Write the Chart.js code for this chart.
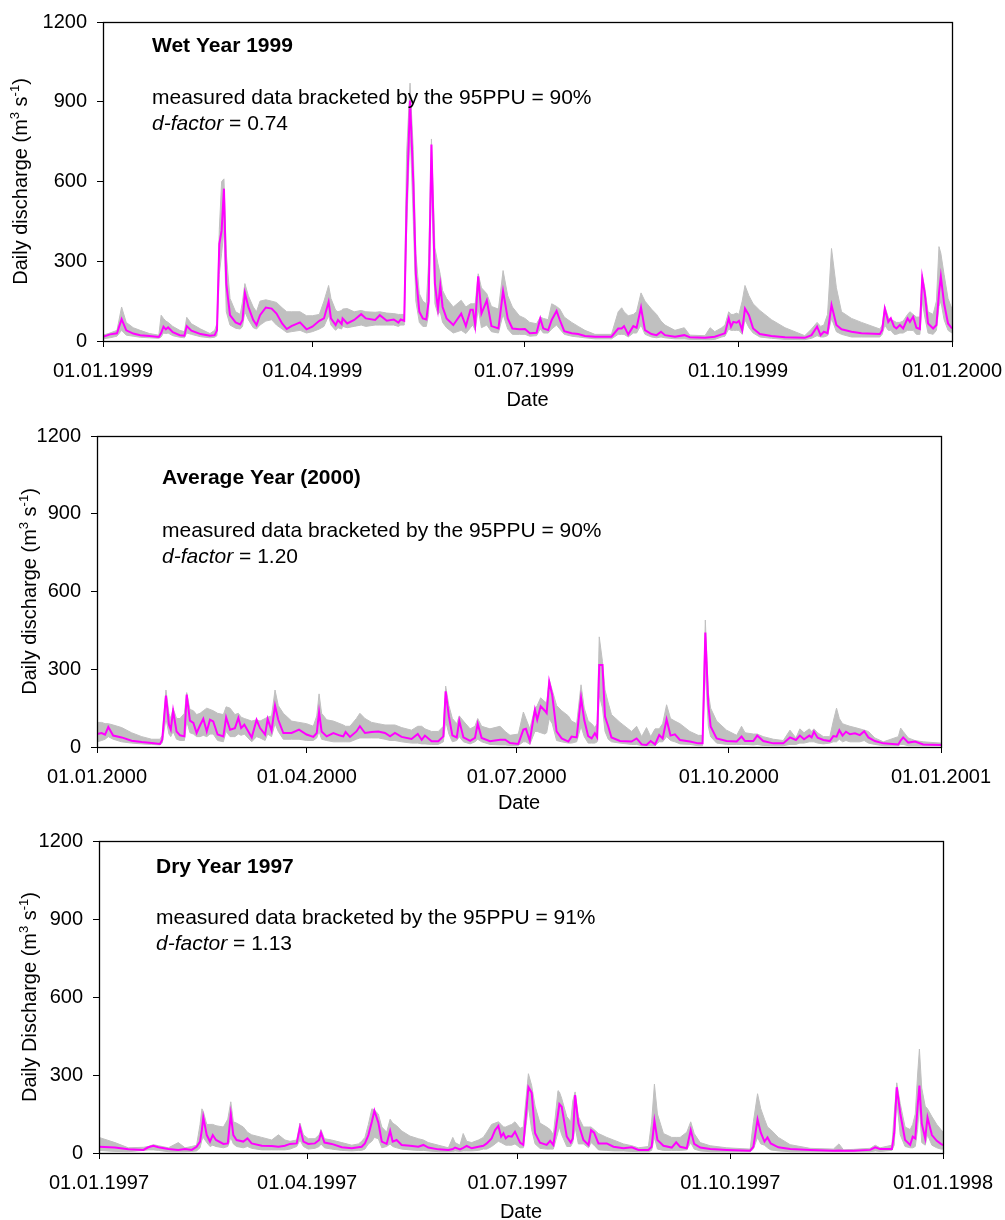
<!DOCTYPE html>
<html>
<head>
<meta charset="utf-8">
<script src="https://cdn.jsdelivr.net/npm/chart.js@4.4.0/dist/chart.umd.min.js"></script>
<style>
  body { margin: 0; background: #fff; }
  .panel { position: absolute; left: 0; width: 1005px; }
</style>
</head>
<body>
<div class="panel" style="top:0;height:412px"><canvas id="wet"></canvas></div>
<div class="panel" style="top:412px;height:406px"><canvas id="avg"></canvas></div>
<div class="panel" style="top:818px;height:402px"><canvas id="dry"></canvas></div>
<script>
// day of year (0 = 1 January), measured discharge and 95PPU band, m3/s
var days1999 = [
  0, 3, 6, 8, 10, 13, 16, 20, 24, 25,
  26, 27, 28, 30, 33, 35, 36, 38, 42, 46,
  48, 49, 50, 51, 52, 53, 54.6, 57, 59, 60,
  61, 62.5, 64.6, 66, 67.5, 70, 72.5, 74.6, 77, 79,
  81, 84.7, 87.5, 90, 93, 95, 97, 98, 100, 101,
  102.6, 103, 105, 108, 111, 113, 117, 119, 122, 125,
  127, 128, 129.5, 130.5, 132, 133.4, 134.5, 136, 137.5, 139,
  140, 141.2, 142.7, 144, 145, 146, 147.7, 150.6, 154, 156,
  158, 159, 160, 161.3, 162.7, 165, 167, 170, 172, 174,
  176, 179, 181.4, 183.5, 186.4, 188, 189.3, 191.4, 192.9, 195,
  196.4, 198.3, 201.5, 204.3, 207.2, 211.5, 218.6, 221.5, 223, 224,
  225.8, 228, 229.4, 231.3, 233, 235.8, 238, 239.9, 241.6, 245.9,
  249.9, 252.3, 258.8, 261, 263, 266, 267.4, 269, 270, 271,
  272.4, 273.4, 274.8, 276, 277.7, 279.5, 282.4, 287.4, 293.2, 301.7,
  304.6, 307, 308.5, 309.9, 311.5, 313.2, 315.3, 317.5, 321.8, 326.1,
  334, 335, 336.1, 337.6, 338.7, 340.1, 341.1, 342.6, 344, 345.9,
  346.9, 348.3, 349.7, 351.2, 352.2, 353.3, 354.7, 356.9, 358.3, 359.4,
  360.2, 361.6, 363.3, 365
];
var flow1999 = [
  16, 25, 29, 82, 40, 28, 22, 19, 15, 30,
  54, 44, 51, 33, 22, 20, 56, 39, 26, 20,
  22, 40, 365, 415, 573, 216, 97, 70, 62, 79,
  181, 128, 79, 60, 97, 126, 122, 103, 66, 45,
  56, 70, 44, 54, 76, 85, 147, 85, 60, 79,
  64, 85, 66, 79, 101, 85, 79, 97, 76, 81,
  69, 81, 76, 500, 905, 600, 250, 110, 85, 81,
  150, 739, 216, 122, 209, 128, 85, 60, 103, 56,
  118, 118, 60, 243, 103, 153, 56, 47, 188, 85,
  47, 44, 45, 29, 31, 85, 47, 41, 79, 113,
  79, 37, 29, 26, 19, 16, 16, 47, 47, 56,
  25, 56, 50, 126, 41, 26, 22, 35, 22, 16,
  22, 14, 12, 14, 16, 25, 29, 85, 54, 72,
  69, 76, 41, 122, 97, 47, 26, 19, 14, 12,
  22, 54, 22, 35, 29, 135, 60, 44, 35, 29,
  26, 41, 122, 72, 85, 54, 47, 60, 47, 85,
  72, 91, 50, 45, 238, 178, 66, 47, 60, 180,
  243, 141, 66, 47
];
var lower1999 = [
  8, 12, 18, 40, 22, 18, 14, 12, 10, 15,
  30, 28, 30, 20, 14, 12, 30, 25, 16, 12,
  14, 20, 250, 330, 420, 110, 60, 48, 45, 55,
  110, 80, 50, 45, 60, 75, 80, 60, 45, 32,
  35, 40, 30, 35, 45, 55, 95, 60, 40, 50,
  45, 55, 50, 55, 60, 55, 60, 60, 60, 60,
  55, 60, 60, 400, 800, 450, 150, 70, 55, 55,
  100, 600, 140, 100, 110, 70, 50, 30, 40, 28,
  50, 60, 40, 120, 50, 60, 35, 30, 100, 45,
  25, 25, 25, 18, 20, 45, 30, 30, 45, 60,
  45, 25, 18, 15, 12, 8, 8, 25, 25, 25,
  15, 30, 30, 60, 25, 15, 12, 15, 12, 8,
  8, 6, 5, 5, 6, 15, 18, 45, 40, 40,
  40, 40, 25, 80, 50, 30, 15, 10, 6, 5,
  10, 20, 15, 15, 20, 85, 35, 25, 15, 15,
  15, 25, 60, 40, 40, 25, 25, 30, 30, 40,
  40, 40, 25, 25, 150, 90, 30, 25, 40, 130,
  150, 80, 40, 30
];
var upper1999 = [
  22, 30, 40, 128, 70, 50, 40, 28, 22, 97,
  85, 75, 70, 55, 40, 35, 89, 65, 45, 28,
  40, 66, 420, 600, 610, 330, 160, 110, 100, 150,
  216, 170, 128, 110, 150, 155, 150, 145, 125, 110,
  110, 110, 95, 95, 100, 150, 209, 160, 116, 110,
  115, 120, 122, 110, 115, 110, 108, 110, 105, 103,
  100, 100, 100, 700, 970, 720, 330, 178, 150, 140,
  300, 760, 350, 290, 250, 190, 160, 128, 153, 128,
  140, 140, 140, 253, 200, 178, 130, 120, 265, 170,
  128, 95, 85, 70, 65, 90, 85, 80, 140, 130,
  120, 90, 70, 55, 40, 25, 25, 110, 125, 110,
  95, 100, 110, 181, 150, 120, 100, 75, 60, 40,
  50, 22, 20, 50, 35, 50, 60, 110, 100, 100,
  105, 100, 150, 209, 170, 140, 115, 80, 50, 20,
  45, 70, 55, 60, 100, 348, 200, 110, 85, 70,
  45, 60, 130, 90, 80, 75, 70, 70, 75, 100,
  110, 100, 90, 90, 250, 200, 110, 100, 150, 355,
  330, 250, 160, 120
];

var days2000 = [
  0, 2, 3.5, 4.9, 7, 10.7, 15, 19.4, 23.7, 27.3,
  28.3, 29.9, 31.2, 32, 33, 34.5, 36, 37.9, 38.9, 40.3,
  41.8, 43.2, 44.7, 46.1, 47.6, 49, 50.4, 52.3, 54.8, 56,
  57.7, 59.8, 61.3, 62.5, 63.9, 67.1, 69.2, 70.7, 72.9, 74,
  75.7, 77.2, 78.6, 80.8, 84.4, 87.6, 90.9, 93.8, 95.3, 96.3,
  97.4, 99.6, 102.5, 105.4, 106.8, 107.8, 109.7, 112.5, 114, 116.2,
  119.1, 122, 124.9, 127.1, 129.2, 132.1, 136.4, 139.1, 140.8, 142.2,
  145.1, 148, 150.2, 151.2, 152.6, 154.1, 156, 157.1, 158.9, 161.8,
  163.9, 165.1, 166.8, 170.4, 174.8, 177, 179.1, 182.7, 184.9, 186,
  187.7, 189.9, 190.9, 192.4, 194.2, 195, 196.1, 197.4, 199.3, 201.5,
  204.4, 205.8, 208, 209.9, 211.3, 213, 214.5, 215.9, 216.9, 217.8,
  219.2, 220.3, 221.7, 223.1, 226.8, 231.8, 234, 236.2, 238.3, 240.1,
  242, 243.8, 245.3, 247, 248.7, 250.6, 252.8, 257.1, 260.7, 262.6,
  263.8, 265.1, 266.1, 268.7, 273, 277.4, 279.5, 281, 284.6, 286.3,
  288.9, 293.3, 297.6, 300.5, 303.1, 304.8, 306.6, 308.9, 309.9, 310.9,
  312.5, 315, 317.8, 319.3, 320.7, 321.9, 323.3, 324.8, 326.5, 328.7,
  330.8, 332.7, 334.5, 337.3, 341, 347.5, 348.5, 349.6, 351.8, 354.7,
  358.3, 366
];
var flow2000 = [
  50, 54, 48, 77, 44, 37, 24, 19, 15, 12,
  28, 198, 86, 67, 140, 60, 45, 41, 202, 102,
  93, 54, 84, 109, 60, 105, 99, 48, 41, 114,
  67, 73, 112, 73, 86, 37, 105, 73, 48, 108,
  63, 160, 105, 54, 54, 67, 48, 39, 54, 135,
  60, 41, 54, 44, 41, 58, 39, 60, 80, 54,
  58, 60, 54, 41, 54, 39, 31, 50, 28, 44,
  22, 22, 41, 215, 118, 45, 37, 102, 37, 24,
  35, 90, 35, 22, 28, 28, 15, 12, 67, 70,
  24, 144, 105, 157, 140, 131, 252, 201, 60, 33,
  21, 40, 37, 190, 104, 42, 33, 53, 37, 316,
  316, 117, 79, 37, 23, 21, 33, 10, 8, 23,
  10, 46, 33, 107, 44, 49, 27, 21, 14, 14,
  442, 162, 79, 33, 23, 21, 40, 23, 23, 44,
  23, 14, 14, 37, 27, 44, 30, 44, 37, 59,
  36, 27, 23, 42, 40, 65, 44, 59, 49, 53,
  46, 61, 37, 23, 14, 10, 25, 37, 17, 21,
  10, 8
];
var lower2000 = [
  20, 25, 30, 40, 30, 20, 15, 12, 10, 8,
  15, 110, 50, 40, 60, 30, 25, 25, 100, 55,
  50, 40, 40, 45, 40, 50, 50, 25, 20, 60,
  40, 40, 50, 45, 50, 20, 40, 35, 25, 50,
  40, 90, 60, 30, 30, 30, 25, 25, 35, 60,
  30, 25, 20, 20, 20, 20, 20, 30, 35, 35,
  35, 35, 30, 25, 25, 20, 15, 15, 12, 12,
  10, 10, 20, 100, 50, 20, 25, 40, 20, 12,
  20, 30, 20, 10, 8, 8, 6, 6, 20, 20,
  10, 60, 60, 55, 50, 55, 110, 90, 25, 20,
  15, 15, 20, 80, 40, 15, 15, 15, 20, 200,
  150, 60, 30, 20, 15, 10, 10, 5, 5, 5,
  5, 20, 20, 40, 25, 20, 12, 10, 5, 5,
  300, 80, 40, 15, 10, 10, 10, 10, 8, 10,
  6, 5, 5, 10, 10, 15, 15, 20, 20, 20,
  15, 12, 15, 20, 20, 30, 20, 25, 20, 20,
  20, 25, 15, 10, 5, 5, 10, 10, 5, 5,
  5, 5
];
var upper2000 = [
  95, 95, 90, 90, 85, 75, 55, 40, 30, 30,
  45, 220, 130, 110, 150, 110, 110, 130, 210, 145,
  140, 125, 130, 140, 150, 145, 140, 130, 125, 155,
  150, 125, 130, 115, 110, 100, 105, 100, 110, 115,
  120, 220, 160, 130, 100, 95, 90, 80, 120, 205,
  130, 105, 100, 90, 85, 80, 80, 110, 130, 110,
  95, 90, 85, 85, 85, 75, 65, 80, 80, 70,
  60, 60, 80, 235, 160, 110, 90, 120, 100, 70,
  80, 110, 80, 70, 80, 60, 45, 50, 135, 110,
  70, 150, 160, 190, 175, 170, 260, 220, 160, 140,
  120, 100, 90, 240, 150, 100, 90, 75, 90, 425,
  330, 220, 170, 125, 95, 60, 80, 40, 75, 40,
  70, 70, 90, 163, 110, 100, 90, 60, 45, 45,
  490, 210, 150, 100, 65, 45, 80, 55, 50, 50,
  40, 30, 25, 65, 35, 70, 55, 70, 60, 70,
  55, 40, 40, 100, 150, 110, 90, 85, 80, 75,
  70, 65, 60, 35, 20, 40, 73, 60, 35, 25,
  20, 15
];

var days1997 = [
  0, 6.9, 12.7, 19.2, 21.3, 23.5, 25.7, 30, 34.3, 37.2,
  40.1, 42.2, 43.7, 44.5, 45.1, 46.6, 48, 49.2, 50.6, 53.8,
  55.7, 57, 58.1, 59.5, 62.4, 64.2, 66, 70.4, 74.7, 77.6,
  80.4, 82.6, 85.5, 86.9, 88.4, 90.5, 93.4, 95.2, 96, 97.5,
  100.6, 105, 109.3, 112.2, 113.6, 115, 116.5, 118, 119.1, 120.8,
  122.3, 124.4, 125.9, 127, 128.7, 130.9, 134.5, 138.1, 140.3, 142.4,
  146.8, 151.1, 153, 154, 156.1, 157.5, 159, 161.2, 164.1, 166.2,
  167.7, 169.8, 171.3, 172.7, 173.9, 174.9, 175.9, 177, 178.5, 179.9,
  182.1, 183.5, 185.7, 187.1, 188.6, 190.7, 193.6, 195.1, 196.5, 198.5,
  199.1, 200.1, 202.3, 204, 204.9, 205.9, 207.3, 209.5, 211.7, 212.8,
  214.1, 216, 219.6, 222.5, 226.8, 230.4, 233.3, 237.6, 239, 240.2,
  241.5, 244.1, 247.7, 249.6, 251.3, 254.2, 255.9, 257.4, 260, 264.3,
  271.5, 281.6, 283, 284.8, 286.2, 287.8, 289.1, 290.5, 293.8, 298.9,
  307.5, 317.6, 320, 322, 326.3, 333.5, 335.7, 337.8, 342.9, 343.9,
  345, 346.5, 348.6, 350.8, 351.9, 353, 354, 354.8, 355.8, 357.3,
  358.3, 360.2, 362.3, 364.1, 365
];
var flow1997 = [
  24, 21, 14, 12, 22, 28, 22, 15, 12, 15,
  12, 24, 44, 90, 137, 69, 44, 69, 50, 35,
  37, 149, 69, 50, 44, 56, 37, 28, 27, 24,
  28, 35, 37, 99, 44, 35, 37, 50, 78, 40,
  35, 22, 18, 22, 24, 37, 69, 120, 163, 117,
  44, 35, 85, 44, 50, 31, 28, 24, 31, 21,
  14, 12, 15, 21, 14, 20, 27, 18, 24, 28,
  37, 56, 88, 104, 63, 76, 56, 65, 63, 82,
  40, 31, 253, 232, 76, 40, 31, 47, 31, 150,
  188, 178, 63, 40, 56, 223, 114, 50, 31, 88,
  78, 37, 37, 24, 18, 22, 12, 12, 24, 124,
  50, 28, 21, 41, 24, 18, 88, 35, 21, 15,
  12, 9, 24, 129, 78, 44, 60, 37, 22, 15,
  12, 9, 10, 9, 9, 12, 22, 15, 15, 76,
  253, 153, 50, 31, 63, 56, 178, 259, 114, 56,
  137, 69, 47, 35, 30
];
var lower1997 = [
  10, 6, 5, 10, 12, 12, 10, 5, 5, 5,
  6, 8, 20, 50, 60, 40, 25, 30, 25, 20,
  25, 60, 35, 25, 20, 25, 18, 12, 12, 12,
  12, 15, 25, 50, 25, 15, 18, 25, 35, 20,
  15, 10, 8, 10, 10, 15, 35, 45, 60, 55,
  20, 25, 35, 25, 20, 15, 12, 10, 10, 8,
  5, 5, 6, 8, 6, 8, 8, 8, 10, 15,
  15, 25, 35, 45, 40, 35, 30, 30, 30, 35,
  20, 20, 180, 90, 35, 18, 15, 15, 15, 80,
  100, 70, 25, 25, 40, 100, 35, 35, 20, 40,
  30, 12, 10, 8, 8, 6, 5, 5, 10, 60,
  15, 10, 10, 10, 10, 12, 40, 15, 8, 5,
  5, 5, 15, 60, 35, 30, 20, 12, 8, 5,
  5, 5, 5, 5, 5, 5, 8, 6, 10, 30,
  200, 70, 25, 20, 20, 25, 90, 180, 40, 30,
  70, 30, 20, 15, 15
];
var upper1997 = [
  60, 40, 20, 22, 25, 32, 28, 20, 40, 20,
  25, 30, 110, 170, 160, 110, 110, 110, 105, 100,
  130, 197, 120, 115, 100, 80, 70, 60, 50, 70,
  50, 45, 50, 115, 70, 55, 55, 70, 90, 55,
  50, 40, 30, 35, 45, 60, 110, 170, 165, 150,
  100, 80, 130, 115, 105, 85, 65, 55, 50, 40,
  30, 20, 60, 40, 30, 75, 45, 40, 50, 60,
  80, 110, 115, 120, 110, 100, 100, 105, 110, 120,
  95, 100, 305, 260, 180, 115, 100, 90, 70, 240,
  235, 210, 140, 120, 200, 235, 140, 100, 100, 100,
  90, 75, 60, 50, 35, 28, 20, 25, 120, 265,
  150, 75, 60, 60, 60, 80, 120, 75, 40, 28,
  20, 15, 120, 228, 170, 130, 100, 90, 60, 32,
  18, 15, 35, 12, 14, 18, 30, 20, 30, 150,
  270, 190, 100, 90, 110, 150, 300, 400, 250, 180,
  170, 140, 110, 90, 80
];

var tickDays1999 = [0, 90, 181, 273, 365];
var tickLabels1999 = ["01.01.1999", "01.04.1999", "01.07.1999", "01.10.1999", "01.01.2000"];
var tickDays2000 = [0, 91, 182, 274, 366];
var tickLabels2000 = ["01.01.2000", "01.04.2000", "01.07.2000", "01.10.2000", "01.01.2001"];
var tickDays1997 = [0, 90, 181, 273, 365];
var tickLabels1997 = ["01.01.1997", "01.04.1997", "01.07.1997", "01.10.1997", "01.01.1998"];

var FONT = "'Liberation Sans', Arial, Helvetica, sans-serif";
var MAGENTA = "#ff00ff";
var GRAY = "#c0c0c0";

// titles, annotations, axis titles and the frame
var panelText = {
  id: "panelText",
  afterDraw: function (chart, args, o) {
    var ctx = chart.ctx, a = chart.chartArea;
    ctx.save();
    ctx.strokeStyle = "#000";
    ctx.lineWidth = 1.3;
    ctx.strokeRect(Math.round(a.left) + 0.5, Math.round(a.top) + 0.5,
      Math.round(a.right - a.left), Math.round(a.bottom - a.top));

    ctx.fillStyle = "#000";
    ctx.textAlign = "left";
    ctx.textBaseline = "alphabetic";
    var x = a.left + o.dx;
    ctx.font = "bold 21px " + FONT;
    ctx.fillText(o.title, x, a.top + o.titleY);
    ctx.font = "21px " + FONT;
    ctx.fillText("measured data bracketed by the 95PPU = " + o.coverage, x, a.top + o.noteY);
    ctx.font = "italic 21px " + FONT;
    ctx.fillText("d-factor", x, a.top + o.noteY + 26);
    var w = ctx.measureText("d-factor").width;
    ctx.font = "21px " + FONT;
    ctx.fillText(" = " + o.dFactor, x + w, a.top + o.noteY + 26);

    // x axis title
    ctx.textAlign = "center";
    ctx.textBaseline = "middle";
    ctx.font = "20px " + FONT;
    ctx.fillText("Date", (a.left + a.right) / 2, a.bottom + o.dateY);

    // y axis title with superscripts
    var parts = [[o.yLabel + " (m", 20, 0], ["3", 13, -8], [" s", 20, 0], ["-1", 13, -8], [")", 20, 0]];
    ctx.translate(o.yTitleX, (a.top + a.bottom) / 2);
    ctx.rotate(-Math.PI / 2);
    ctx.textAlign = "left";
    ctx.textBaseline = "alphabetic";
    var total = 0;
    parts.forEach(function (p) { ctx.font = p[1] + "px " + FONT; total += ctx.measureText(p[0]).width; });
    var px = -total / 2;
    parts.forEach(function (p) {
      ctx.font = p[1] + "px " + FONT;
      ctx.fillText(p[0], px, p[2]);
      px += ctx.measureText(p[0]).width;
    });
    ctx.restore();
  }
};

function points(days, values) {
  return days.map(function (d, i) { return { x: d, y: values[i] }; });
}

function makeChart(id, days, flow, lower, upper, tickDays, tickLabels, box, text) {
  return new Chart(document.getElementById(id), {
    type: "line",
    data: {
      datasets: [
        { label: "measured", data: points(days, flow), borderColor: MAGENTA, borderWidth: 2, fill: false, order: 0 },
        { label: "95PPU upper", data: points(days, upper), borderColor: GRAY, backgroundColor: GRAY, borderWidth: 1, fill: 2, order: 1 },
        { label: "95PPU lower", data: points(days, lower), borderColor: GRAY, borderWidth: 1, fill: false, order: 2 }
      ]
    },
    options: {
      responsive: true,
      maintainAspectRatio: false,
      animation: false,
      devicePixelRatio: 1,
      elements: { point: { radius: 0 }, line: { tension: 0 } },
      layout: { padding: { top: box.top, right: box.right, left: 0, bottom: 0 } },
      plugins: { legend: { display: false }, tooltip: { enabled: false }, panelText: text },
      scales: {
        x: {
          type: "linear",
          min: tickDays[0],
          max: tickDays[tickDays.length - 1],
          afterBuildTicks: function (s) { s.ticks = tickDays.map(function (d) { return { value: d }; }); },
          afterFit: function (s) { s.height = box.xh; },
          grid: { drawOnChartArea: false, color: "#000", tickLength: 6 },
          border: { color: "#000", width: 1 },
          ticks: {
            autoSkip: false, maxRotation: 0, color: "#000", padding: 2,
            font: { family: FONT, size: 20, lineHeight: 2.2 },
            callback: function (v, i) { return tickLabels[i]; }
          }
        },
        y: {
          min: 0,
          max: 1200,
          afterFit: function (s) { s.width = box.left; },
          grid: { drawOnChartArea: false, color: "#000", tickLength: 6 },
          border: { color: "#000", width: 1 },
          ticks: {
            stepSize: 300, color: "#000", padding: 10, font: { family: FONT, size: 20 },
            callback: function (v) { return String(v); }
          }
        }
      }
    },
    plugins: [panelText]
  });
}

makeChart("wet", days1999, flow1999, lower1999, upper1999, tickDays1999, tickLabels1999,
  { top: 20, right: 53, left: 103, xh: 71 },
  { title: "Wet Year 1999", coverage: "90%", dFactor: "0.74", yLabel: "Daily discharge",
    dx: 49, titleY: 30, noteY: 82, dateY: 59, yTitleX: 27 });
makeChart("avg", days2000, flow2000, lower2000, upper2000, tickDays2000, tickLabels2000,
  { top: 24, right: 64, left: 97, xh: 71 },
  { title: "Average Year (2000)", coverage: "90%", dFactor: "1.20", yLabel: "Daily discharge",
    dx: 65, titleY: 48, noteY: 101, dateY: 56, yTitleX: 35.5 });
makeChart("dry", days1997, flow1997, lower1997, upper1997, tickDays1997, tickLabels1997,
  { top: 23, right: 62, left: 99, xh: 67 },
  { title: "Dry Year 1997", coverage: "91%", dFactor: "1.13", yLabel: "Daily Discharge",
    dx: 57, titleY: 32, noteY: 83, dateY: 59, yTitleX: 35.5 });
</script>
</body>
</html>
